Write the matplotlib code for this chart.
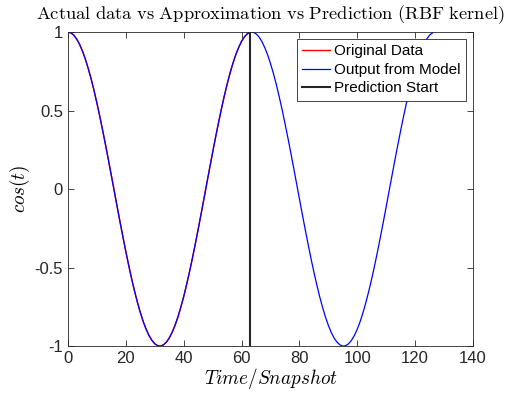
import matplotlib
matplotlib.use("Agg")
from matplotlib import pyplot as plt

# Values, one per snapshot (0..126)
snap = list(range(0, 127))
model = [1.000, 0.995, 0.981, 0.956, 0.923, 0.880, 0.829, 0.769, 0.703, 0.629,
         0.549, 0.464, 0.374, 0.281, 0.185, 0.087, -0.012, -0.111, -0.209, -0.304,
         -0.397, -0.486, -0.570, -0.648, -0.720, -0.785, -0.843, -0.892, -0.932, -0.963,
         -0.985, -0.997, -1.000, -0.992, -0.975, -0.949, -0.913, -0.868, -0.815, -0.753,
         -0.685, -0.609, -0.528, -0.442, -0.351, -0.257, -0.160, -0.062, 0.037, 0.136,
         0.233, 0.328, 0.419, 0.507, 0.590, 0.667, 0.737, 0.800, 0.856, 0.902,
         0.941, 0.970, 0.989, 0.999,
         0.999, 0.989, 0.970, 0.941, 0.902, 0.856, 0.800, 0.737, 0.667, 0.590,
         0.507, 0.419, 0.328, 0.233, 0.136, 0.037, -0.062, -0.160, -0.257, -0.351,
         -0.442, -0.528, -0.609, -0.685, -0.753, -0.815, -0.868, -0.913, -0.949, -0.975,
         -0.992, -1.000, -0.997, -0.985, -0.963, -0.932, -0.892, -0.843, -0.785, -0.720,
         -0.648, -0.570, -0.486, -0.397, -0.304, -0.209, -0.111, -0.012, 0.087, 0.185,
         0.281, 0.374, 0.464, 0.549, 0.629, 0.703, 0.769, 0.829, 0.880, 0.923,
         0.956, 0.981, 0.995]
orig_x = snap[:64]
orig_y = model[:64]
pred_start = 63

xticks = [0, 20, 40, 60, 80, 100, 120, 140]
yticks = [-1, -0.5, 0, 0.5, 1]
ytick_labels = ["-1", "-0.5", "0", "0.5", "1"]

plt.rcParams["mathtext.fontset"] = "cm"
plt.rcParams["font.family"] = ["Liberation Sans", "DejaVu Sans"]

fig = plt.figure(figsize=(5.07, 3.96), dpi=100)
ax = fig.add_axes([0.134, 0.126, 0.799, 0.793])

ax.plot(orig_x, orig_y, color="red", lw=1.0, label="Original Data")
ax.plot(snap, model, color="blue", lw=0.9, label="Output from Model")
ax.axvline(pred_start, color="#262626", lw=1.5, label="Prediction Start")

ax.set_xlim(0, 140)
ax.set_ylim(-1, 1)
ax.set_xticks(xticks)
ax.set_yticks(yticks)
ax.set_yticklabels(ytick_labels)
ax.tick_params(direction="in", top=True, right=True, labelsize=12,
               colors="#262626", length=4, width=0.6)
for s in ax.spines.values():
    s.set_color("#262626")
    s.set_linewidth(0.6)

ax.set_title(r"$\mathrm{Actual\ data\ vs\ Approximation\ vs\ Prediction\ (RBF\ kernel)}$",
             fontsize=13.3, pad=9)
ax.set_xlabel(r"$Time/Snapshot$", fontsize=13.8, labelpad=0)
ax.set_ylabel(r"$cos(t)$", fontsize=13.8, labelpad=2)

leg = ax.legend(loc="upper right", fontsize=11, fancybox=False, framealpha=1,
                edgecolor="#262626", handlelength=1.8, borderpad=0.35,
                labelspacing=0.3, handletextpad=0.3, borderaxespad=0.45)
leg.get_frame().set_linewidth(0.6)

fig.savefig("out.png", dpi=100)
